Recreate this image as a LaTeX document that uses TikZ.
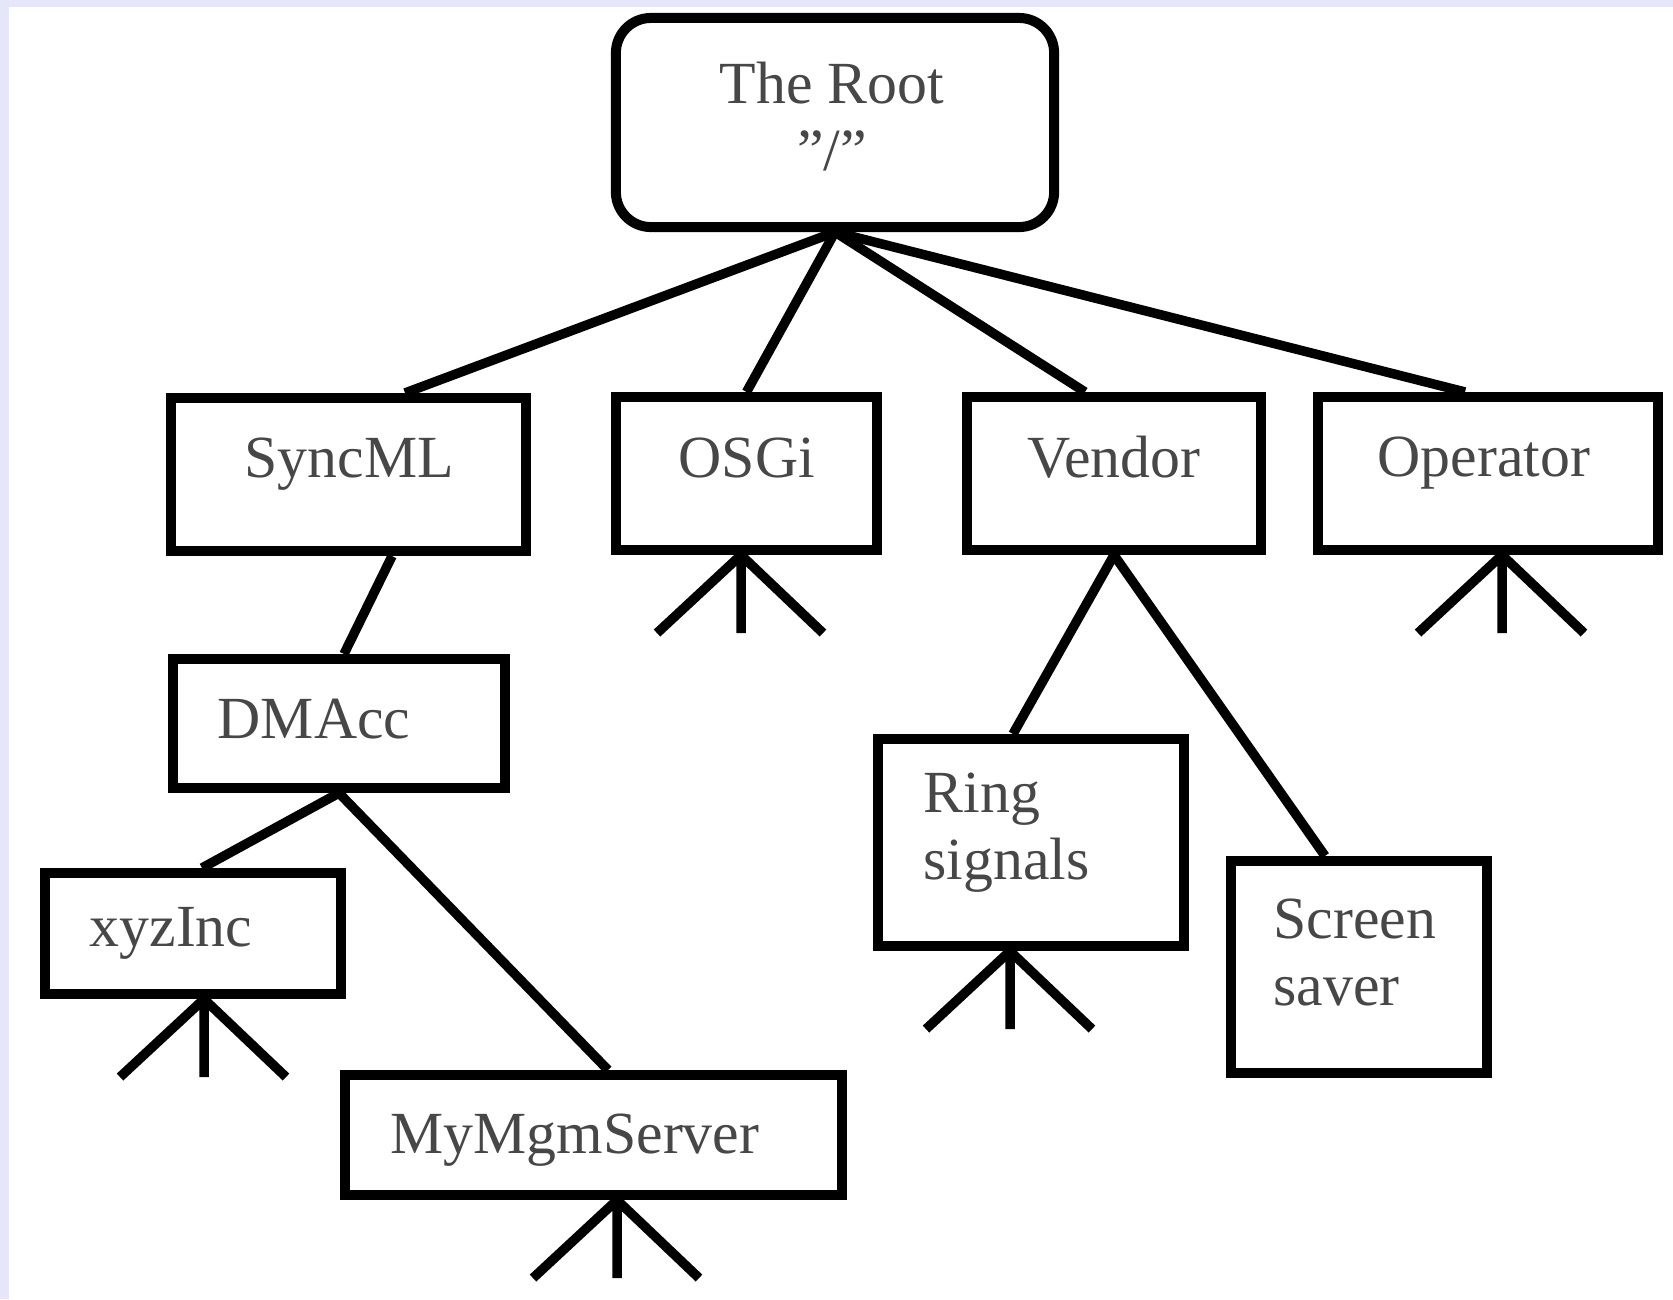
\documentclass[tikz,border=0pt]{standalone}
\usepackage{fontspec}
\setmainfont{Liberation Serif}
\usepackage{tikz}
\definecolor{framebg}{HTML}{E6E6FA}
\def\subtree(#1){\draw[branch] (#1) -- ++(-84, 78) (#1) -- ++(0, 78) (#1) -- ++(82, 78);}

\begin{document}
\begin{tikzpicture}[x=0.01cm, y=-0.01cm,
		box/.style={draw, line width=0.1cm, inner sep=0pt},
		branch/.style={line width=0.095cm},
		lbl/.style={inner sep=0pt, text=black!72, font=\fontsize{17pt}{18.9pt}\selectfont}]
		%%%%% START %%%%%
		
		\fill[framebg] (0, 0) rectangle (1673, 1299);
		\fill[white] (9, 7) rectangle (1673, 1299);
		\useasboundingbox (0, 0) rectangle (1673, 1299);
		
		\node[box, rounded corners=0.35cm, minimum width=4.38cm, minimum height=2.09cm] (root) at (835, 122.5) {};
		\node[lbl, anchor=base, align=center] (rootname) at (832, 170) {The Root\\''/''};
		
		\node[box, minimum width=3.55cm, minimum height=1.53cm] (syncml) at (348.5, 474.5) {};
		\node[box, minimum width=2.61cm, minimum height=1.53cm] (osgi) at (746.5, 473.5) {};
		\node[box, minimum width=2.94cm, minimum height=1.53cm] (vendor) at (1114, 473.5) {};
		\node[box, minimum width=3.40cm, minimum height=1.53cm] (operator) at (1488, 473.5) {};
		\node[lbl, anchor=base west] (syncmlname) at (244, 477) {SyncML};
		\node[lbl, anchor=base west] (osginame) at (678, 477) {OSGi};
		\node[lbl, anchor=base west] (vendorname) at (1027, 477) {Vendor};
		\node[lbl, anchor=base west] (operatorname) at (1377, 476) {Operator};
		
		\node[box, minimum width=3.32cm, minimum height=1.29cm] (dmacc) at (339, 723.5) {};
		\node[box, minimum width=2.96cm, minimum height=1.21cm] (xyzinc) at (193, 933.5) {};
		\node[box, minimum width=4.97cm, minimum height=1.20cm] (mymgm) at (593.5, 1135) {};
		\node[lbl, anchor=base west] (dmaccname) at (217, 738) {DMAcc};
		\node[lbl, anchor=base west] (xyzincname) at (89, 946) {xyzInc};
		\node[lbl, anchor=base west] (mymgmname) at (390, 1153) {MyMgmServer};
		
		\node[box, minimum width=3.06cm, minimum height=2.07cm] (ring) at (1031, 842.5) {};
		\node[box, minimum width=2.56cm, minimum height=2.12cm] (screen) at (1359, 967) {};
		\node[lbl, anchor=base west, align=left] (ringname) at (923, 879) {Ring\\signals};
		\node[lbl, anchor=base west, align=left] (screenname) at (1273, 1005) {Screen\\saver};
		
		\draw[branch] (root.south) -- ([xshift=5.65mm]syncml.north);
		\draw[branch] (root.south) -- (osgi.north);
		\draw[branch] (root.south) -- ([xshift=-2.9mm]vendor.north);
		\draw[branch] (root.south) -- ([xshift=-2.3mm]operator.north);
		
		\draw[branch] ([xshift=4.35mm]syncml.south) -- ([xshift=0.5mm]dmacc.north);
		\draw[branch] (dmacc.south) -- ([xshift=0.9mm]xyzinc.north);
		\draw[branch] (dmacc.south) -- ([xshift=1.45mm]mymgm.north);
		\draw[branch] (vendor.south) -- ([xshift=-1.8mm]ring.north);
		\draw[branch] (vendor.south) -- ([xshift=-3.4mm]screen.north);
		
		\subtree([xshift=-0.55mm]osgi.south)
		\subtree([xshift=1.4mm]operator.south)
		\subtree([xshift=1.1mm]xyzinc.south)
		\subtree([xshift=-2.1mm]ring.south)
		\subtree([xshift=2.35mm]mymgm.south)
		
		%%%%% END %%%%%
	\end{tikzpicture}
\end{document}
